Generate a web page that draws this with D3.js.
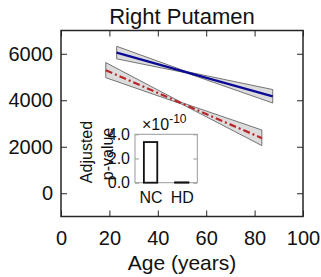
<!DOCTYPE html>
<html>
<head>
<meta charset="utf-8">
<script src="https://cdn.jsdelivr.net/npm/d3@7"></script>
<style>
  body { margin: 0; background: #fff; }
  svg { display: block; font-family: "Liberation Sans", Arial, sans-serif; }
</style>
</head>
<body>
<svg id="chart"></svg>
<script>
// main panel data
const xTicks = [0, 20, 40, 60, 80, 100];
const yTicks = [0, 2000, 4000, 6000];

const ncAge = [23, 52, 87.5];
const ncFit = [6050, 5200, 4168];
const ncUpper = [6320, 5230, 4460];
const ncLower = [5780, 5170, 3880];

const hdAge = [18.5, 50, 83];
const hdFit = [5290, 3862, 2370];
const hdUpper = [5620, 3895, 2720];
const hdLower = [4970, 3830, 2050];

// inset data
const groups = ['NC', 'HD'];
const pValues = [3.36, 0.03]; // x 1e-10
const insetTicks = [0, 2, 4];

const width = 321, height = 277;
const svg = d3.select('#chart').attr('width', width).attr('height', height);

const plot = { left: 61, right: 303, top: 30.5, bottom: 216.5 };
const x = d3.scaleLinear().domain([0, 100]).range([plot.left, plot.right]);
const y = d3.scaleLinear().domain([-1000, 7000]).range([plot.bottom, plot.top]);

const axisColor = '#262626';
const tickLen = 6;

// confidence bands + fits
function band(ages, lo, hi) {
  const pts = ages.map((a, i) => [x(a), y(hi[i])])
    .concat(ages.map((a, i) => [x(a), y(lo[i])]).reverse());
  return 'M' + pts.map(p => p.join(',')).join('L') + 'Z';
}
const fitLine = d3.line().x(d => x(d[0])).y(d => y(d[1]));

svg.append('path').attr('d', band(ncAge, ncLower, ncUpper))
  .attr('fill', '#dcdcdc').attr('stroke', '#555').attr('stroke-width', 0.8);
svg.append('path').attr('d', band(hdAge, hdLower, hdUpper))
  .attr('fill', '#dcdcdc').attr('stroke', '#555').attr('stroke-width', 0.8);

svg.append('path').datum(ncAge.map((a, i) => [a, ncFit[i]]))
  .attr('d', fitLine).attr('fill', 'none')
  .attr('stroke', '#0a0a96').attr('stroke-width', 2.2);
svg.append('path').datum(hdAge.map((a, i) => [a, hdFit[i]]))
  .attr('d', fitLine).attr('fill', 'none')
  .attr('stroke', '#b8262b').attr('stroke-width', 2.2)
  .attr('stroke-dasharray', '7,3,2,3');

// main axes box with inward ticks
const gx = svg.append('g').attr('transform', `translate(0,${plot.bottom})`)
  .call(d3.axisBottom(x).tickValues(xTicks).tickSizeInner(-tickLen).tickSizeOuter(0).tickPadding(14));
const gy = svg.append('g').attr('transform', `translate(${plot.left},0)`)
  .call(d3.axisLeft(y).tickValues(yTicks).tickFormat(d3.format('d')).tickSizeInner(-tickLen).tickSizeOuter(0).tickPadding(8));
const gxt = svg.append('g').attr('transform', `translate(0,${plot.top})`)
  .call(d3.axisTop(x).tickValues(xTicks).tickSizeInner(-tickLen).tickSizeOuter(0).tickFormat(''));
const gyr = svg.append('g').attr('transform', `translate(${plot.right},0)`)
  .call(d3.axisRight(y).tickValues(yTicks).tickSizeInner(-tickLen).tickSizeOuter(0).tickFormat(''));

[gx, gy, gxt, gyr].forEach(g => {
  g.select('.domain').remove();
  g.selectAll('line').attr('stroke', axisColor).attr('stroke-width', 1);
  g.selectAll('text').attr('fill', '#111').style('font-size', '20px');
});
gx.selectAll('text').attr('dy', '0.71em');

svg.append('rect')
  .attr('x', plot.left).attr('y', plot.top)
  .attr('width', plot.right - plot.left).attr('height', plot.bottom - plot.top)
  .attr('fill', 'none').attr('stroke', axisColor).attr('stroke-width', 1.5);

svg.append('text').attr('x', (plot.left + plot.right) / 2).attr('y', 24)
  .attr('text-anchor', 'middle').style('font-size', '22px').attr('fill', '#111')
  .text('Right Putamen');

svg.append('text').attr('x', (plot.left + plot.right) / 2).attr('y', 270)
  .attr('text-anchor', 'middle').style('font-size', '21px').attr('fill', '#111')
  .text('Age (years)');

// inset bar chart
const inset = { left: 135, right: 197.3, top: 134.3, bottom: 182.7 };
const ix = d3.scalePoint().domain(groups).range([inset.left, inset.right]).padding(0.5);
const iy = d3.scaleLinear().domain([0, 4]).range([inset.bottom, inset.top]);
const barW = ix.step() * 0.43;
const insetGray = '#9a9a9a';

const ins = svg.append('g');
ins.append('rect')
  .attr('x', inset.left).attr('y', inset.top)
  .attr('width', inset.right - inset.left).attr('height', inset.bottom - inset.top)
  .attr('fill', '#fff').attr('stroke', insetGray).attr('stroke-width', 1);

const iyl = ins.append('g').attr('transform', `translate(${inset.left},0)`)
  .call(d3.axisLeft(iy).tickValues(insetTicks).tickSizeInner(-4).tickSizeOuter(0).tickPadding(5));
const iyr = ins.append('g').attr('transform', `translate(${inset.right},0)`)
  .call(d3.axisRight(iy).tickValues(insetTicks).tickSizeInner(-4).tickSizeOuter(0).tickFormat(''));
const ixb = ins.append('g').attr('transform', `translate(0,${inset.bottom})`)
  .call(d3.axisBottom(ix).tickSize(0).tickPadding(9));
[iyl, iyr, ixb].forEach(g => {
  g.select('.domain').remove();
  g.selectAll('line').attr('stroke', insetGray).attr('stroke-width', 1);
  g.selectAll('text').attr('fill', '#111').style('font-size', '16px');
});
ixb.selectAll('text').attr('dy', '0.71em');

ins.selectAll('.bar').data(groups).enter().append('rect')
  .attr('class', 'bar')
  .attr('x', d => ix(d) - barW / 2)
  .attr('y', (d, i) => iy(pValues[i]))
  .attr('width', barW)
  .attr('height', (d, i) => iy(0) - iy(pValues[i]))
  .attr('fill', '#fff').attr('stroke', '#111').attr('stroke-width', 1.8);

const exp = ins.append('text').attr('x', 142).attr('y', 130)
  .attr('fill', '#111').style('font-size', '16px');
exp.append('tspan').text('\u00d710');
exp.append('tspan').attr('dy', -7).style('font-size', '12px').text('-10');

ins.append('text').attr('transform', 'translate(91.5,152) rotate(-90)')
  .attr('text-anchor', 'middle').attr('fill', '#111').style('font-size', '16px')
  .text('Adjusted');
ins.append('text').attr('transform', 'translate(112.5,154) rotate(-90)')
  .attr('text-anchor', 'middle').attr('fill', '#111').style('font-size', '16px')
  .text('p-value');
</script>
</body>
</html>
